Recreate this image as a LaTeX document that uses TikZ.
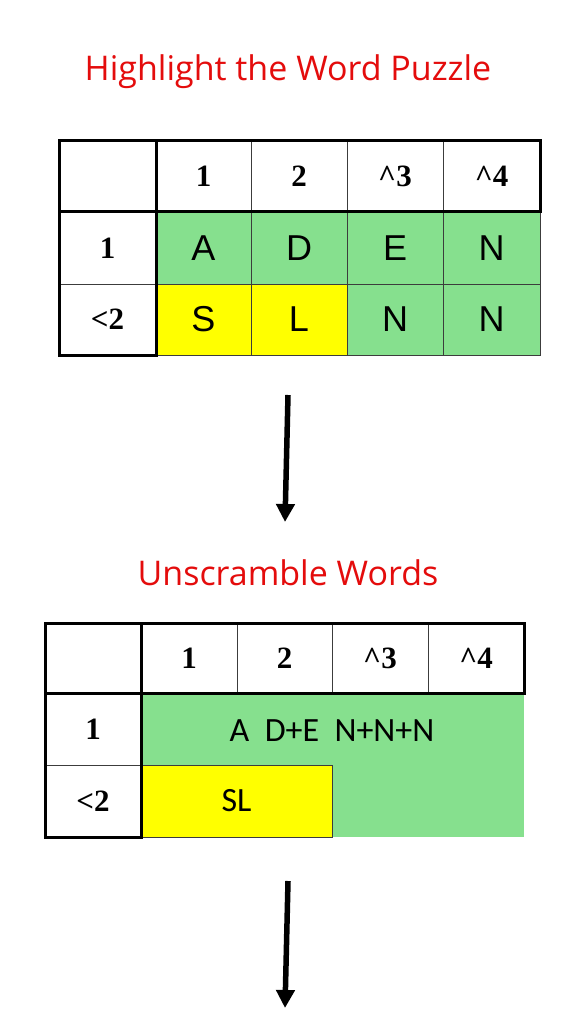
\documentclass[tikz,border=0pt]{standalone}
\usepackage{fontspec}
\setmainfont{Liberation Serif}
\newfontfamily\arialf{Liberation Sans}
\newfontfamily\calibf{Carlito}
\newfontfamily\titlef{Open Sans}
\usetikzlibrary{arrows.meta}
\definecolor{hlgreen}{RGB}{134,224,142}
\definecolor{hlyellow}{RGB}{255,255,0}
\definecolor{titlered}{RGB}{228,12,12}
\definecolor{gridgray}{RGB}{60,60,60}
\tikzset{
  cell/.style={inner sep=0pt, outer sep=0pt, draw=gridgray, line width=0.8pt, anchor=center},
  headtxt/.style={font=\fontsize{31}{36}\selectfont\bfseries},
  datatxt/.style={font=\arialf\fontsize{36}{40}\selectfont},
  caltxt/.style={font=\calibf\fontsize{34}{38}\selectfont},
  thickline/.style={line width=3pt, black, line cap=rect},
  titletxt/.style={font=\titlef\fontsize{34}{40}\selectfont, text=titlered},
  bigarrow/.style={line width=5.5pt, -{Triangle[width=18pt,length=18pt]}}
}
\begin{document}
\begin{tikzpicture}[x=1pt,y=-1pt]
\useasboundingbox[fill=white] (0,0) rectangle (576,1024);

% titles
\node[titletxt] (title1) at (288,72) {Highlight the Word Puzzle};
\node[titletxt] (title2) at (288,573) {Unscramble Words};

% ---------- table 1 ----------
\node[cell, minimum width=97pt, minimum height=71pt] (t1h0) at (107.5,176.5) {};
\node[cell, headtxt, minimum width=95pt, minimum height=71pt] (t1h1) at (203.5,176.5) {1};
\node[cell, headtxt, minimum width=96pt, minimum height=71pt] (t1h2) at (299,176.5) {2};
\node[cell, headtxt, minimum width=96pt, minimum height=71pt] (t1h3) at (395,176.5) {\^{}3};
\node[cell, headtxt, minimum width=97pt, minimum height=71pt] (t1h4) at (491.5,176.5) {\^{}4};

\node[cell, headtxt, minimum width=97pt, minimum height=72pt] (t1r1) at (107.5,248) {1};
\node[cell, datatxt, fill=hlgreen, minimum width=95pt, minimum height=72pt] (t1a) at (203.5,248) {A};
\node[cell, datatxt, fill=hlgreen, minimum width=96pt, minimum height=72pt] (t1b) at (299,248) {D};
\node[cell, datatxt, fill=hlgreen, minimum width=96pt, minimum height=72pt] (t1c) at (395,248) {E};
\node[cell, datatxt, fill=hlgreen, minimum width=97pt, minimum height=72pt] (t1d) at (491.5,248) {N};

\node[cell, headtxt, minimum width=97pt, minimum height=71pt] (t1r2) at (107.5,319.5) {<2};
\node[cell, datatxt, fill=hlyellow, minimum width=95pt, minimum height=71pt] (t1e) at (203.5,319.5) {S};
\node[cell, datatxt, fill=hlyellow, minimum width=96pt, minimum height=71pt] (t1f) at (299,319.5) {L};
\node[cell, datatxt, fill=hlgreen, minimum width=96pt, minimum height=71pt] (t1g) at (395,319.5) {N};
\node[cell, datatxt, fill=hlgreen, minimum width=97pt, minimum height=71pt] (t1h) at (491.5,319.5) {N};

\draw[thickline] (t1h0.north west) rectangle (t1h4.south east);
\draw[thickline] (t1h0.north west) rectangle (t1r2.south east);

% arrow 1
\coordinate (a1s) at (288,395);
\coordinate (a1e) at (285,522);
\draw[bigarrow] (a1s) -- (a1e);

% ---------- table 2 ----------
\node[cell, minimum width=96pt, minimum height=70pt] (t2h0) at (93,658) {};
\node[cell, headtxt, minimum width=96pt, minimum height=70pt] (t2h1) at (189,658) {1};
\node[cell, headtxt, minimum width=95pt, minimum height=70pt] (t2h2) at (284.5,658) {2};
\node[cell, headtxt, minimum width=96pt, minimum height=70pt] (t2h3) at (380,658) {\^{}3};
\node[cell, headtxt, minimum width=96pt, minimum height=70pt] (t2h4) at (476,658) {\^{}4};

\node[cell, headtxt, minimum width=96pt, minimum height=72pt] (t2r1) at (93,729) {1};
\node[cell, headtxt, minimum width=96pt, minimum height=72pt] (t2r2) at (93,801) {<2};

\node[inner sep=0pt, outer sep=0pt, fill=hlgreen, minimum width=383pt, minimum height=144pt] (t2green) at (332.5,765) {};
\node[caltxt] (t2row1) at (332,731) {A\ \ D+E\ \ N+N+N};
\node[cell, caltxt, fill=hlyellow, minimum width=191pt, minimum height=72pt] (t2sl) at (236.5,801) {SL};

\draw[thickline] (t2h0.north west) rectangle (t2h4.south east);
\draw[thickline] (t2h0.north west) rectangle (t2r2.south east);

% arrow 2
\coordinate (a2s) at (288,881);
\coordinate (a2e) at (285,1008);
\draw[bigarrow] (a2s) -- (a2e);
\end{tikzpicture}
\end{document}
